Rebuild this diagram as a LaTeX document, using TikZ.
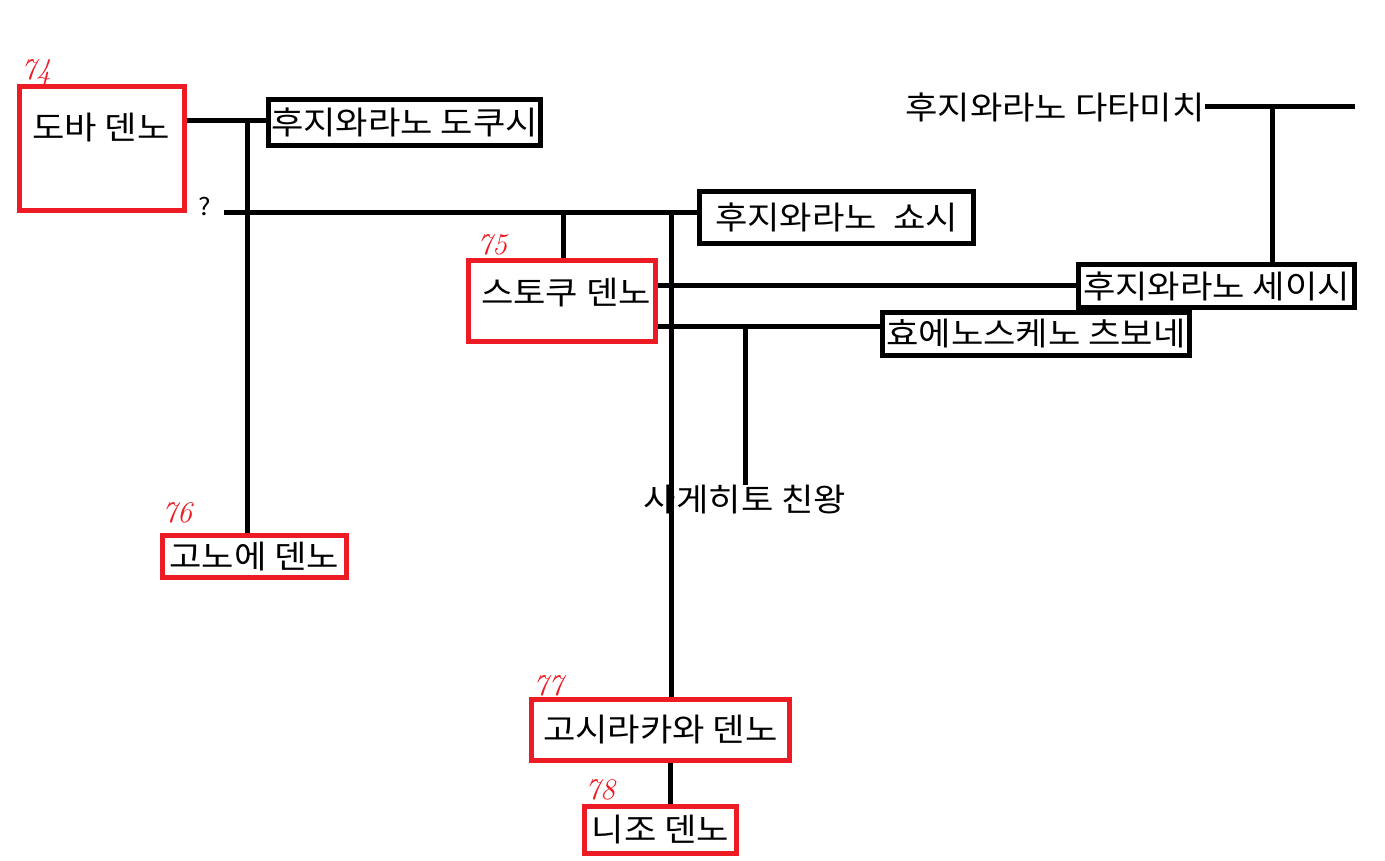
\documentclass[tikz,border=0pt]{standalone}
\usepackage{fontspec}
\newfontfamily\kr[FakeStretch=1.1]{Noto Sans CJK KR}
\definecolor{pred}{HTML}{ED1C24}
\begin{document}
\begin{tikzpicture}[x=1pt,y=-1pt,
  kfont/.style={font=\kr\fontsize{32}{32}\selectfont},
  kbox/.style={draw=black, line width=5pt, inner sep=0pt, kfont},
  rbox/.style={draw=pred, line width=5pt, inner sep=0pt, kfont},
  plain/.style={inner sep=0pt, kfont},
  num/.style={text=pred, inner sep=0pt, font=\fontsize{30}{30}\selectfont\itshape},
  conn/.style={line width=5pt, draw=black}]
\useasboundingbox (0,0) rectangle (1385,861);
% boxes
\node[rbox, minimum width=165pt, minimum height=124pt] (toba) at (102,148.5) {};
\node[plain] (tobat) at (101,128) {도바 덴노};
\node[kbox, minimum width=272pt, minimum height=46pt] (tokushi) at (404.5,122.5) {후지와라노 도쿠시};
\node[kbox, minimum width=274pt, minimum height=52pt] (shoshi) at (836.5,217.5) {후지와라노\hspace{0.5em}쇼시};
\node[rbox, minimum width=187pt, minimum height=81pt] (sutoku) at (562,301) {};
\node[plain] (sutokut) at (566,293) {스토쿠 덴노};
\node[kbox, minimum width=276pt, minimum height=43pt] (seishi) at (1216.5,286) {후지와라노 세이시};
\node[kbox, minimum width=307pt, minimum height=43pt] (tsubone) at (1036,334) {효에노스케노 츠보네};
\node[rbox, minimum width=184pt, minimum height=42pt] (konoe) at (254.5,556.5) {고노에 덴노};
\node[rbox, minimum width=258pt, minimum height=61pt] (goshi) at (660.5,730) {고시라카와 덴노};
\node[rbox, minimum width=152pt, minimum height=47pt] (nijo) at (660.5,830) {니조 덴노};
\node[plain] (tadamichi) at (1055,107) {후지와라노 다타미치};
\node[plain] (sagehito) at (745,500) {사게히토 친왕};
\node[plain, font=\kr\fontsize{24}{24}\selectfont] (q) at (205,207) {?};
% numbers
\node[num] (n74) at (36,72) {74};
\node[num] (n75) at (492,245) {75};
\node[num] (n76) at (177,513) {76};
\node[num] (n77) at (548,686) {77};
\node[num] (n78) at (600,790) {78};
% junction coordinates
\coordinate (j1) at (247,121);
\coordinate (qs) at (224,213);
\coordinate (j2) at (671,213);
\coordinate (j3) at (745,326);
\coordinate (j4) at (1272,107);
\coordinate (tend) at (1355,107);
% connectors
\draw[conn] (toba.east |- j1) -- (tokushi.west |- j1);
\draw[conn] (j1) -- (j1 |- konoe.north);
\draw[conn] (qs) -- (shoshi.west |- qs);
\draw[conn] (563,213) -- (563,258);
\draw[conn] (j2) -- (j2 |- goshi.north);
\draw[conn] (sutoku.east |- seishi.west) -- (seishi.west);
\draw[conn] (sutoku.east |- j3) -- (tsubone.west |- j3);
\draw[conn] (j3) -- (745,485);
\draw[conn] (tadamichi.east) -- (tend);
\draw[conn] (j4) -- (j4 |- seishi.north);
\draw[conn] (goshi.south -| 670,0) -- (nijo.north -| 670,0);
\end{tikzpicture}
\end{document}
